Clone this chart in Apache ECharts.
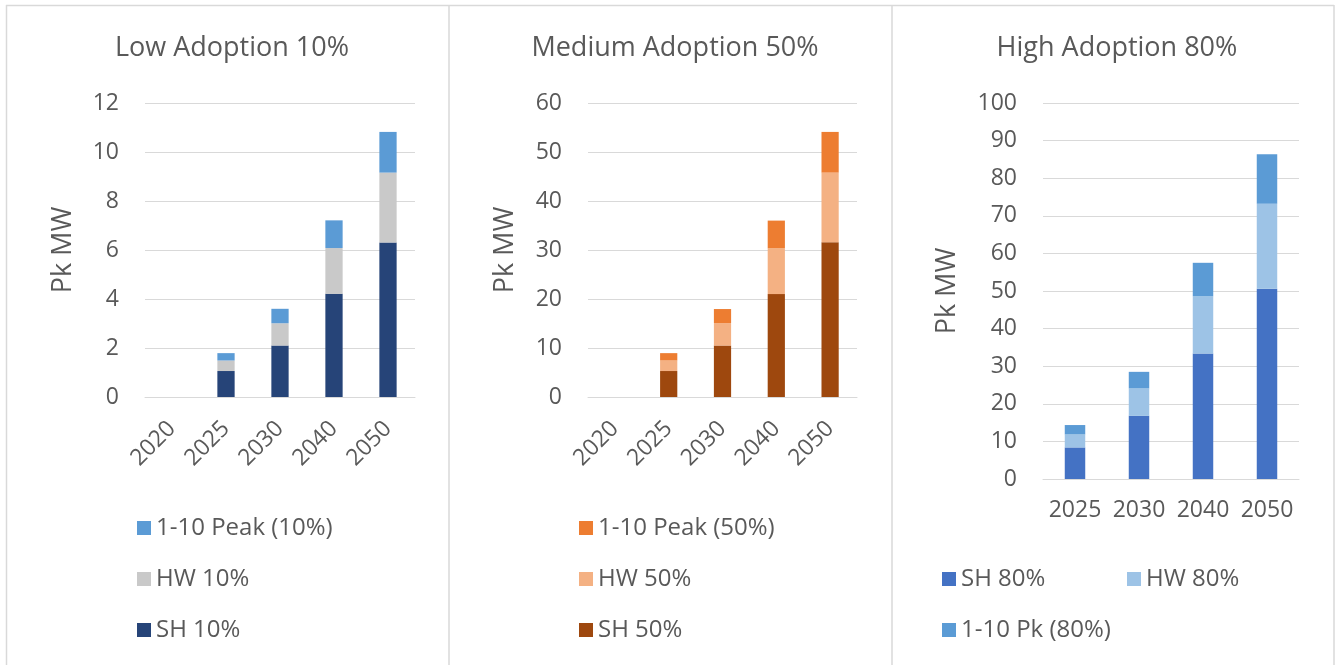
<!DOCTYPE html>
<html>
<head>
<meta charset="utf-8">
<script src="https://cdn.jsdelivr.net/npm/echarts@6/dist/echarts.min.js"></script>
<style>
    html, body { margin: 0; padding: 0; background: #ffffff; }
    #container { width: 1335px; height: 665px; }
</style>
</head>
<body>
<div id="container"></div>
<script type="text/javascript">
    // categories
    var years1 = ['2020', '2025', '2030', '2040', '2050'];
    var years3 = ['2025', '2030', '2040', '2050'];

    // low adoption 10%
    var lowSH = [0, 1.06, 2.10, 4.21, 6.31];
    var lowHW = [0, 0.43, 0.91, 1.87, 2.85];
    var lowPk = [0, 0.30, 0.59, 1.13, 1.66];

    // medium adoption 50%
    var medSH = [0, 5.3, 10.5, 21.0, 31.6];
    var medHW = [0, 2.15, 4.55, 9.35, 14.2];
    var medPk = [0, 1.5, 2.9, 5.65, 8.3];

    // high adoption 80%
    var highSH = [8.4, 16.8, 33.4, 50.6];
    var highHW = [3.45, 7.3, 15.2, 22.6];
    var highPk = [2.5, 4.4, 8.9, 13.2];

    var font = 'Open Sans';
    var txt = '#595959';
    var line = '#d9d9d9';

    var dom = document.getElementById('container');
    var myChart = echarts.init(dom);

    function yAxis(idx, max, interval, gap) {
        return {
            type: 'value', gridIndex: idx, min: 0, max: max, interval: interval,
            name: 'Pk MW', nameLocation: 'middle', nameRotate: 90, nameGap: gap,
            nameTextStyle: { fontFamily: font, fontSize: 27, color: txt },
            axisLabel: { fontFamily: font, fontSize: 23, color: txt, margin: 26 },
            axisLine: { show: false }, axisTick: { show: false },
            splitLine: { lineStyle: { color: line, width: 1 } }
        };
    }

    function xAxis(idx, cats, rotate, margin) {
        return {
            type: 'category', gridIndex: idx, data: cats,
            axisLabel: { fontFamily: font, fontSize: 23, color: txt, rotate: rotate, margin: margin, interval: 0 },
            axisLine: { lineStyle: { color: line, width: 1 } },
            axisTick: { show: false }
        };
    }

    function bar(name, idx, stack, data, color) {
        return {
            name: name, type: 'bar', stack: stack, xAxisIndex: idx, yAxisIndex: idx,
            barCategoryGap: '68%', data: data, itemStyle: { color: color },
            emphasis: { disabled: true }
        };
    }

    function legendItem(name, left, cy) {
        return {
            data: [name], left: left, top: cy - 13, icon: 'rect',
            itemWidth: 14, itemHeight: 14, itemGap: 0, itemTextGap: 7, selectedMode: false,
            textStyle: { fontFamily: font, fontSize: 24, color: txt, lineHeight: 24 }
        };
    }

    function title(text, cx) {
        return {
            text: text, left: cx, top: 30, textAlign: 'center',
            textStyle: { fontFamily: font, fontSize: 27, fontWeight: 'normal', color: txt }
        };
    }

    var border = { stroke: line, lineWidth: 1.5 };

    option = {
        backgroundColor: '#ffffff',
        animation: false,
        title: [
            title('Low Adoption 10%', 227),
            title('Medium Adoption 50%', 670),
            title('High Adoption 80%', 1112)
        ],
        grid: [
            { left: 145, right: 920, top: 103, bottom: 268 },
            { left: 588, right: 478, top: 103, bottom: 268 },
            { left: 1043, right: 36, top: 103, bottom: 186 }
        ],
        xAxis: [
            xAxis(0, years1, 45, 28),
            xAxis(1, years1, 45, 28),
            xAxis(2, years3, 0, 20)
        ],
        yAxis: [
            yAxis(0, 12, 2, 68),
            yAxis(1, 60, 10, 69),
            yAxis(2, 100, 10, 82)
        ],
        legend: [
            legendItem('1-10 Peak (10%)', 132, 524),
            legendItem('HW 10%', 132, 575),
            legendItem('SH 10%', 132, 626),
            legendItem('1-10 Peak (50%)', 574, 524),
            legendItem('HW 50%', 574, 575),
            legendItem('SH 50%', 574, 626),
            legendItem('SH 80%', 937, 575),
            legendItem('HW 80%', 1122, 575),
            legendItem('1-10 Pk (80%)', 937, 626)
        ],
        series: [
            bar('SH 10%', 0, 'low', lowSH, '#264478'),
            bar('HW 10%', 0, 'low', lowHW, '#c9c9c9'),
            bar('1-10 Peak (10%)', 0, 'low', lowPk, '#5b9bd5'),
            bar('SH 50%', 1, 'med', medSH, '#9e480e'),
            bar('HW 50%', 1, 'med', medHW, '#f4b183'),
            bar('1-10 Peak (50%)', 1, 'med', medPk, '#ed7d31'),
            bar('SH 80%', 2, 'high', highSH, '#4472c4'),
            bar('HW 80%', 2, 'high', highHW, '#9dc3e6'),
            bar('1-10 Pk (80%)', 2, 'high', highPk, '#5b9bd5')
        ],
        graphic: [
            { type: 'line', shape: { x1: 6, y1: 5.5, x2: 1334, y2: 5.5 }, style: border, silent: true },
            { type: 'line', shape: { x1: 6.5, y1: 5, x2: 6.5, y2: 665 }, style: border, silent: true },
            { type: 'line', shape: { x1: 449, y1: 5, x2: 449, y2: 665 }, style: border, silent: true },
            { type: 'line', shape: { x1: 892, y1: 5, x2: 892, y2: 665 }, style: border, silent: true },
            { type: 'line', shape: { x1: 1334, y1: 5, x2: 1334, y2: 665 }, style: border, silent: true }
        ]
    };

    if (option && typeof option === "object") {
        myChart.setOption(option, true);
    }
</script>
</body>
</html>
